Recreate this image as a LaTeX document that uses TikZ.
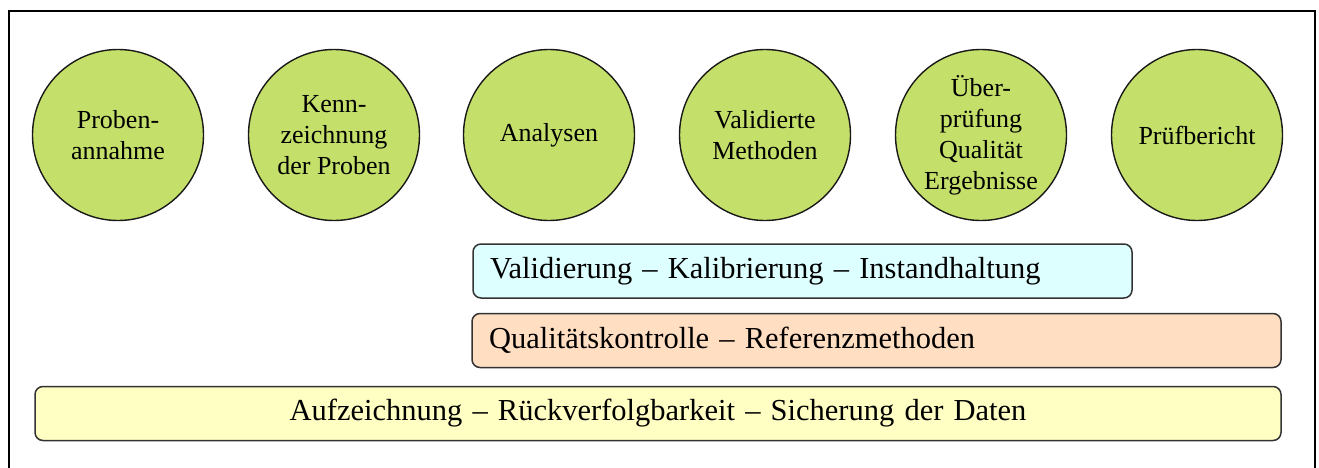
\documentclass[tikz,border=0pt]{standalone}
\usepackage{fontspec}
\setmainfont{Liberation Serif}
\definecolor{kreisgruen}{RGB}{197,224,106}
\definecolor{hellblau}{RGB}{222,255,255}
\definecolor{pfirsich}{RGB}{255,222,194}
\definecolor{hellgelb}{RGB}{255,255,196}
\begin{document}
\begin{tikzpicture}[x=1pt,y=-1pt,
  schritt/.style={circle,draw=black!90,line width=1.4pt,fill=kreisgruen,
    minimum size=171pt,inner sep=0pt,align=center,
    font=\fontsize{26}{31}\selectfont},
  balken/.style={draw=black!80,line width=1.5pt,rounded corners=8pt,
    minimum height=54pt,inner ysep=0pt,inner xsep=17pt,
    font=\fontsize{30.5}{36}\selectfont}]
\useasboundingbox (0,0) rectangle (1319,468);
\draw [line width=1.1pt] (9,468) -- (9,11) -- (1315,11) -- (1315,468);
% Ablauf der Pruefung
\node [schritt] (annahme)   at (118,135)  {Proben-\\annahme};
\node [schritt] (kennz)     at (334,135)  {Kenn-\\zeichnung\\der Proben};
\node [schritt] (analysen)  at (549,135)  {Analysen};
\node [schritt] (methoden)  at (765,135)  {Validierte\\Methoden};
\node [schritt] (pruefung)  at (981,135)  {Über-\\prüfung\\Qualität\\Ergebnisse};
\node [schritt] (bericht)   at (1197,135) {Prüfbericht};
% begleitende Massnahmen
\node [balken,fill=hellblau,text width=625pt,align=left] (valid) at (802.5,271)
  {Validierung – Kalibrierung – Instandhaltung};
\node [balken,fill=pfirsich,text width=775pt,align=left] (kontrolle) at (876.5,340.5)
  {Qualitätskontrolle – Referenzmethoden};
\node [balken,fill=hellgelb,text width=1212pt,align=center] (daten) at (658,413.5)
  {Aufzeichnung – Rückverfolgbarkeit – Sicherung der Daten};
\end{tikzpicture}
\end{document}
